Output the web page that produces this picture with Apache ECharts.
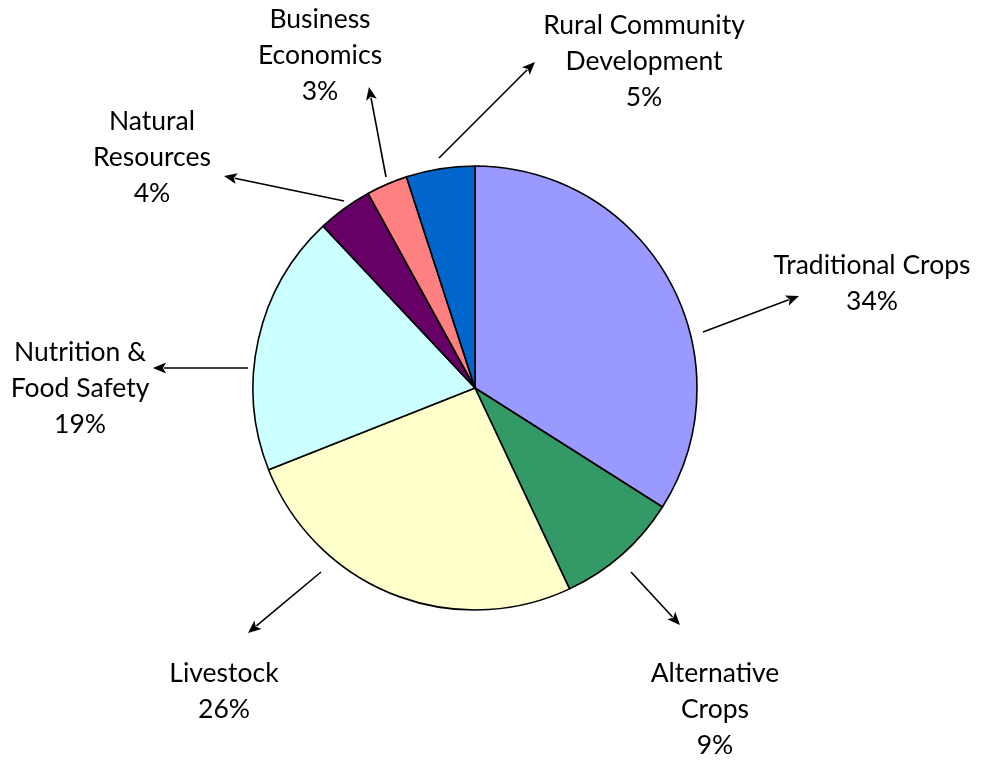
<!DOCTYPE html>
<html><head><meta charset="utf-8">
<script src="https://cdn.jsdelivr.net/npm/echarts@6/dist/echarts.min.js"></script>
<style>html,body{margin:0;padding:0;background:#fff}#c{width:981px;height:760px}</style>
</head><body><div id="c"></div>
<script>
// ---- data ----
const categories = ['Traditional Crops', 'Alternative\nCrops', 'Livestock', 'Nutrition &\nFood Safety', 'Natural\nResources', 'Business\nEconomics', 'Rural Community\nDevelopment'];
const values = [34, 9, 26, 19, 4, 3, 5];
const colors = ['#9999FF', '#339966', '#FFFFCC', '#CCFFFF', '#660066', '#FF8080', '#0066CC'];

// ---- annotation layout (label centres, arrow start / tip) ----
const labelPos = [[872, 283], [715, 709], [224, 691], [80, 388], [152, 157], [320, 55], [644, 61]];
const arrowFrom = [[703, 332], [631, 572], [321, 572], [248, 368], [344, 201], [386, 177], [439, 158]];
const arrowTo = [[799, 296], [680, 625], [248, 633], [153, 368], [224, 176], [369, 87], [535, 62]];

const FONT = 'Lato';
const chart = echarts.init(document.getElementById('c'), null, {renderer: 'canvas'});

function arrowGraphics() {
  const out = [];
  const headLen = 13, headHalf = 5.5;
  for (let i = 0; i < arrowFrom.length; i++) {
    const [x1, y1] = arrowFrom[i], [x2, y2] = arrowTo[i];
    const dx = x2 - x1, dy = y2 - y1, L = Math.hypot(dx, dy);
    const ux = dx / L, uy = dy / L, px = -uy, py = ux;
    const bx = x2 - ux * headLen, by = y2 - uy * headLen;
    out.push({type: 'line', silent: true, shape: {x1: x1, y1: y1, x2: bx + ux * 2, y2: by + uy * 2},
      style: {stroke: '#000', lineWidth: 1.6}});
    out.push({type: 'polygon', silent: true,
      shape: {points: [[x2, y2], [bx + px * headHalf, by + py * headHalf], [bx + ux * 3, by + uy * 3], [bx - px * headHalf, by - py * headHalf]]},
      style: {fill: '#000'}});
  }
  return out;
}

chart.setOption({
  backgroundColor: '#fff',
  animation: false,
  graphic: arrowGraphics(),
  series: [{
    type: 'pie',
    center: [475, 388],
    radius: 222,
    startAngle: 90,
    clockwise: true,
    avoidLabelOverlap: false,
    data: categories.map((c, i) => ({name: c, value: values[i], itemStyle: {color: colors[i]}})),
    itemStyle: {borderColor: '#000', borderWidth: 1.6},
    emphasis: {disabled: true},
    label: {
      show: true,
      position: 'outside',
      formatter: p => p.name + '\n' + Math.round(p.percent) + '%',
      fontFamily: FONT,
      fontSize: 26.5,
      lineHeight: 36,
      color: '#000',
      align: 'center'
    },
    labelLine: {show: false},
    labelLayout: function (params) {
      const i = params.dataIndex;
      return {x: labelPos[i][0], y: labelPos[i][1], align: 'center', verticalAlign: 'middle'};
    }
  }]
});
</script>
</body></html>
